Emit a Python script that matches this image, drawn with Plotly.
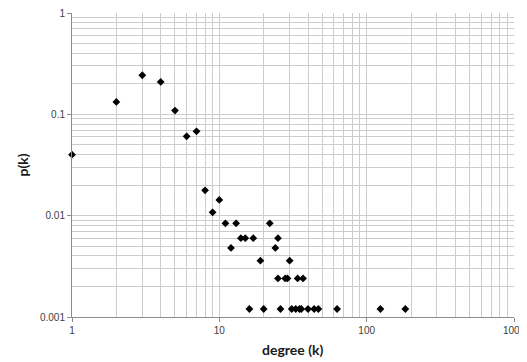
import plotly.graph_objects as go

degree = [1, 2, 3, 4, 5, 6, 7, 8, 9, 10,
          11, 13, 22, 12, 24, 14, 15, 17, 25, 19, 30,
          25, 28, 29, 34, 37,
          16, 20, 26, 31, 33, 35, 36, 40, 44, 47, 63, 124, 183]
pk = [0.040, 0.1325, 0.243, 0.209, 0.109, 0.0607, 0.0679, 0.0178, 0.0108, 0.0143,
      0.0084, 0.0084, 0.0084, 0.0048, 0.0048, 0.0060, 0.0060, 0.0060, 0.0060, 0.0036, 0.0036,
      0.0024, 0.0024, 0.0024, 0.0024, 0.0024,
      0.0012, 0.0012, 0.0012, 0.0012, 0.0012, 0.0012, 0.0012, 0.0012, 0.0012, 0.0012, 0.0012, 0.0012, 0.0012]

x_ticks = [1, 10, 100, 1000]
x_labels = ["1", "10", "100", "1000"]
y_ticks = [0.001, 0.01, 0.1, 1]
y_labels = ["0.001", "0.01", "0.1", "1"]

fig = go.Figure(go.Scatter(
    x=degree, y=pk, mode="markers",
    marker=dict(symbol="diamond", size=6, color="black"),
    cliponaxis=False,
))

grid = "#cccccc"
tickfont = dict(family="Liberation Sans, Arial, sans-serif", size=10, color="#404040")
titlefont = dict(family="Lato, Calibri, sans-serif", size=14, color="#1a1a1a", weight="bold")

fig.update_xaxes(
    type="log", range=[0, 3], tickvals=x_ticks, ticktext=x_labels,
    showgrid=True, gridcolor=grid, gridwidth=1,
    minor=dict(dtick="D1", showgrid=True, gridcolor=grid, gridwidth=1, ticks=""),
    showline=True, linecolor="#8c8c8c", linewidth=1,
    ticks="outside", ticklen=4, tickcolor="#8c8c8c",
    tickfont=tickfont, zeroline=False, automargin=False,
    ticklabeloverflow="allow",
)
fig.update_yaxes(
    type="log", range=[-3, 0], tickvals=y_ticks, ticktext=y_labels,
    showgrid=True, gridcolor=grid, gridwidth=1,
    minor=dict(dtick="D1", showgrid=True, gridcolor=grid, gridwidth=1, ticks=""),
    showline=True, linecolor="#8c8c8c", linewidth=1,
    ticks="outside", ticklen=4, tickcolor="#8c8c8c",
    tickfont=tickfont, zeroline=False, automargin=False,
    ticklabeloverflow="allow",
)
fig.add_annotation(text="<b>degree (k)</b>", xref="paper", yref="paper",
                   x=0.5, y=-0.107, yanchor="middle", xanchor="center",
                   showarrow=False, font=titlefont)
fig.add_annotation(text="<b>p(k)</b>", xref="paper", yref="paper",
                   x=-0.112, y=0.5, textangle=-90, xanchor="center", yanchor="middle",
                   showarrow=False, font=titlefont)
fig.update_layout(
    width=519, height=354,
    margin=dict(l=64, r=13, t=5, b=45),
    paper_bgcolor="white", plot_bgcolor="white",
    showlegend=False,
)
fig.write_html("out.html")
